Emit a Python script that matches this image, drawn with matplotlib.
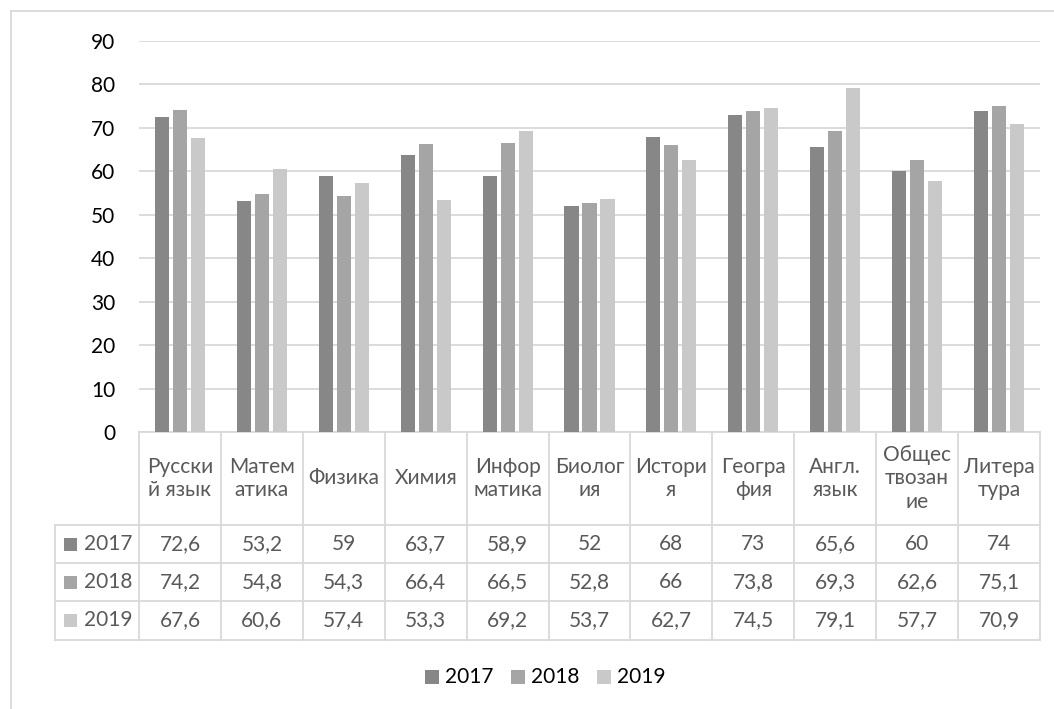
import matplotlib
matplotlib.use("Agg")
import matplotlib.pyplot as plt
import matplotlib.transforms as mtransforms
import numpy as np

categories = ["Русски\nй язык", "Матем\nатика", "Физика", "Химия", "Инфор\nматика",
              "Биолог\nия", "Истори\nя", "Геогра\nфия", "Англ.\nязык",
              "Общес\nтвозан\nие", "Литера\nтура"]
years = ["2017", "2018", "2019"]
v2017 = [72.6, 53.2, 59, 63.7, 58.9, 52, 68, 73, 65.6, 60, 74]
v2018 = [74.2, 54.8, 54.3, 66.4, 66.5, 52.8, 66, 73.8, 69.3, 62.6, 75.1]
v2019 = [67.6, 60.6, 57.4, 53.3, 69.2, 53.7, 62.7, 74.5, 79.1, 57.7, 70.9]
yticks = [0, 10, 20, 30, 40, 50, 60, 70, 80, 90]

series = [v2017, v2018, v2019]
colors = ["#878787", "#a5a5a5", "#c9c9c9"]
grid_c = "#d9d9d9"
txt_c = "#595959"
FONT = "Lato"
FS = 15

W, H = 1054, 709
fig = plt.figure(figsize=(W / 100, H / 100), dpi=100)

# overlay in pixel coords
ov = fig.add_axes([0, 0, 1, 1], zorder=0)
ov.set_xlim(0, W)
ov.set_ylim(H, 0)
ov.axis("off")

# plot area
x0, x1 = 139, 1040
y_top, y_zero = 41, 432
ax = fig.add_axes([x0 / W, (H - y_zero) / H, (x1 - x0) / W, (y_zero - y_top) / H], zorder=1)
ax.patch.set_visible(False)
n = len(categories)
ax.set_xlim(0, n)
ax.set_ylim(0, 90)
ax.set_yticks(yticks)
ax.set_yticklabels([str(t) for t in yticks], fontsize=FS, family=FONT, color="black")
ax.tick_params(axis="y", length=0, pad=17)
ax.set_xticks([])
for s in ax.spines.values():
    s.set_visible(False)
ax.yaxis.grid(True, color=grid_c, lw=1.3)
ax.set_axisbelow(True)

xs = np.arange(n) + 0.5
step = 0.22
bw = 0.172
for k, (vals, c) in enumerate(zip(series, colors)):
    ax.bar(xs + (k - 1) * step, vals, width=bw, color=c, zorder=2)

# outer frame
ov.plot([11, W], [11, 11], color=grid_c, lw=1.3)
ov.plot([11, 11], [11, H], color=grid_c, lw=1.3)

# table
bt = mtransforms.blended_transform_factory(ax.transData, ov.transData)
row_tops = [432, 525, 563, 601, 640]
hdr_left = 55
lw_t = 1.3
# horizontal lines
ov.plot([x0, x1], [row_tops[0], row_tops[0]], color=grid_c, lw=lw_t)
for yy in row_tops[1:]:
    ov.plot([hdr_left, x1], [yy, yy], color=grid_c, lw=lw_t)
# vertical lines
for i in range(n + 1):
    ax.plot([i, i], [row_tops[0], row_tops[-1]], transform=bt, color=grid_c, lw=lw_t, clip_on=False)
ov.plot([hdr_left, hdr_left], [row_tops[1], row_tops[-1]], color=grid_c, lw=lw_t)

# category labels
cy = (row_tops[0] + row_tops[1]) / 2
for i, c in enumerate(categories):
    ax.text(i + 0.5, cy, c, transform=bt, ha="center", va="center", fontsize=FS,
            family=FONT, color=txt_c, linespacing=1.2, clip_on=False)

# rows
for r, (yr, vals, c) in enumerate(zip(years, series, colors)):
    ry = (row_tops[r + 1] + row_tops[r + 2]) / 2
    ov.add_patch(plt.Rectangle((64, ry - 6.5), 13, 13, color=c, lw=0))
    ov.text(84, ry, yr, ha="left", va="center", fontsize=FS, family=FONT, color=txt_c)
    for i, v in enumerate(vals):
        ax.text(i + 0.5, ry, f"{v:g}".replace(".", ","), transform=bt, ha="center",
                va="center", fontsize=FS, family=FONT, color=txt_c, clip_on=False)

# legend
ly = 677
for k, (yr, c) in enumerate(zip(years, colors)):
    lx = 425 + k * 86
    ov.add_patch(plt.Rectangle((lx, ly - 7), 14, 14, color=c, lw=0))
    ov.text(lx + 20, ly, yr, ha="left", va="center", fontsize=FS, family=FONT, color="black")

fig.savefig("out.png", dpi=100)
